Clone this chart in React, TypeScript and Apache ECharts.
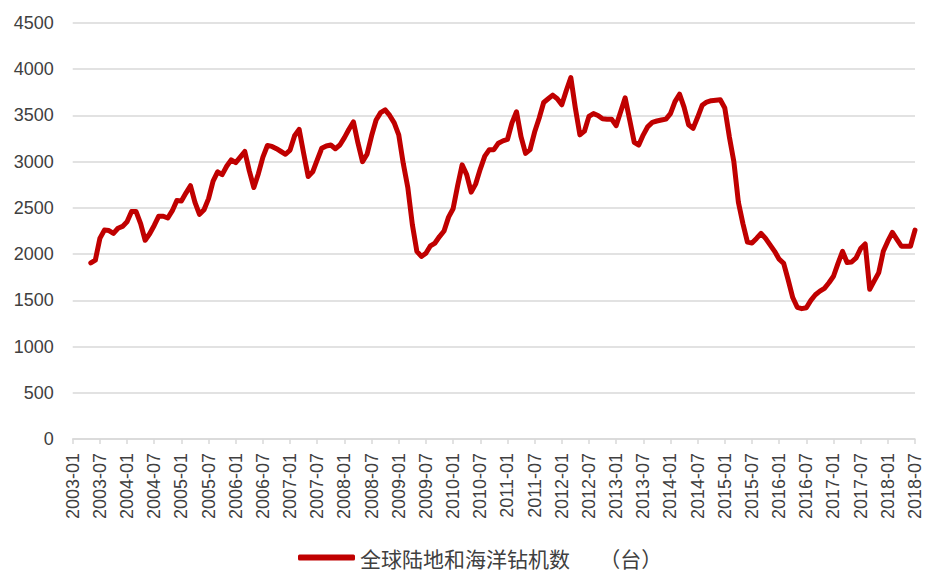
import React, { useEffect, useRef } from "react";
import * as echarts from "echarts";

// Tick labels: monthly categories 2003-01 .. 2018-07 (every 6th is shown)
const years = [2003, 2004, 2005, 2006, 2007, 2008, 2009, 2010, 2011, 2012, 2013, 2014, 2015, 2016, 2017, 2018];
const monthCodes = ["01", "02", "03", "04", "05", "06", "07", "08", "09", "10", "11", "12"];
const categories: string[] = [];
for (const y of years) {
  for (const m of monthCodes) {
    if (y === 2018 && Number(m) > 7) break;
    categories.push(`${y}-${m}`);
  }
}

const yTicks = { min: 0, max: 4500, interval: 500 };

// Global land + offshore rig count, one row per year (12 positions each)
const v2003 = [null, null, null, null, 1905, 1935, 2170, 2260, 2255, 2225, 2280, 2300];
const v2004 = [2350, 2460, 2460, 2330, 2150, 2220, 2310, 2410, 2410, 2390, 2470, 2580];
const v2005 = [2575, 2660, 2740, 2560, 2430, 2480, 2600, 2790, 2890, 2860, 2950, 3020];
const v2006 = [2990, 3050, 3110, 2900, 2720, 2870, 3050, 3175, 3165, 3140, 3110, 3080];
const v2007 = [3125, 3280, 3350, 3090, 2840, 2890, 3020, 3145, 3170, 3180, 3140, 3180];
const v2008 = [3260, 3350, 3430, 3200, 3000, 3080, 3280, 3450, 3530, 3560, 3500, 3420];
const v2009 = [3290, 2980, 2720, 2320, 2030, 1975, 2010, 2090, 2120, 2190, 2250, 2400];
const v2010 = [2490, 2740, 2965, 2860, 2670, 2760, 2920, 3060, 3130, 3130, 3200, 3225];
const v2011 = [3240, 3420, 3540, 3270, 3090, 3130, 3320, 3470, 3640, 3680, 3720, 3680];
const v2012 = [3615, 3770, 3910, 3580, 3290, 3330, 3490, 3520, 3500, 3465, 3460, 3460];
const v2013 = [3390, 3540, 3690, 3450, 3210, 3180, 3290, 3380, 3425, 3440, 3450, 3460];
const v2014 = [3520, 3650, 3730, 3590, 3400, 3360, 3480, 3610, 3645, 3660, 3665, 3670];
const v2015 = [3580, 3270, 3000, 2560, 2330, 2130, 2120, 2170, 2225, 2170, 2100, 2030];
const v2016 = [1945, 1900, 1720, 1530, 1425, 1410, 1420, 1500, 1560, 1600, 1630, 1690];
const v2017 = [1760, 1900, 2030, 1910, 1915, 1960, 2060, 2110, 1620, 1710, 1800, 2030];
const v2018 = [2140, 2235, 2160, 2085, 2085, 2085, 2260];

const rigCount = [
  ...v2003, ...v2004, ...v2005, ...v2006, ...v2007, ...v2008, ...v2009, ...v2010,
  ...v2011, ...v2012, ...v2013, ...v2014, ...v2015, ...v2016, ...v2017, ...v2018,
];

const seriesName = "全球陆地和海洋钻机数    　（台）";

export default function App() {
  const ref = useRef<HTMLDivElement>(null);
  useEffect(() => {
    if (!ref.current) return;
    const chart = echarts.init(ref.current, undefined, { renderer: "svg" });
    chart.setOption({
      animation: false,
      backgroundColor: "#ffffff",
      grid: { left: 72.7, right: 10, top: 23, bottom: 133, containLabel: false },
      xAxis: {
        type: "category",
        data: categories,
        boundaryGap: false,
        axisLine: { show: true, lineStyle: { color: "#d9d9d9", width: 1.5 } },
        axisTick: { show: true, interval: 5, length: 5, lineStyle: { color: "#d9d9d9", width: 1.5 } },
        axisLabel: {
          interval: 5,
          rotate: 90,
          margin: 14,
          color: "#404040",
          fontSize: 18,
          fontFamily: "Liberation Sans, Arial, sans-serif",
        },
        splitLine: { show: false },
      },
      yAxis: {
        type: "value",
        min: yTicks.min,
        max: yTicks.max,
        interval: yTicks.interval,
        axisLine: { show: false },
        axisTick: { show: false },
        axisLabel: {
          margin: 19,
          color: "#404040",
          fontSize: 18,
          fontFamily: "Liberation Sans, Arial, sans-serif",
          formatter: (v: number) => String(v),
        },
        splitLine: { show: true, lineStyle: { color: "#d9d9d9", width: 1.5 } },
      },
      legend: {
        show: true,
        left: 298,
        top: 547,
        padding: 0,
        itemWidth: 57,
        itemHeight: 6,
        icon: "roundRect",
        itemGap: 10,
        textStyle: {
          color: "#404040",
          fontSize: 21,
          fontFamily: "Noto Sans CJK SC, sans-serif",
        },
        data: [{ name: seriesName, itemStyle: { color: "#c00000" } }],
      },
      series: [
        {
          name: seriesName,
          type: "line",
          data: rigCount,
          showSymbol: false,
          symbol: "none",
          connectNulls: false,
          smooth: false,
          lineStyle: { color: "#c00000", width: 5, cap: "round", join: "round" },
          itemStyle: { color: "#c00000" },
        },
      ],
    });
    return () => chart.dispose();
  }, []);
  return (
    <div
      ref={ref}
      style={{ position: "fixed", left: 0, top: 0, width: 925, height: 572, background: "#fff" }}
    />
  );
}
